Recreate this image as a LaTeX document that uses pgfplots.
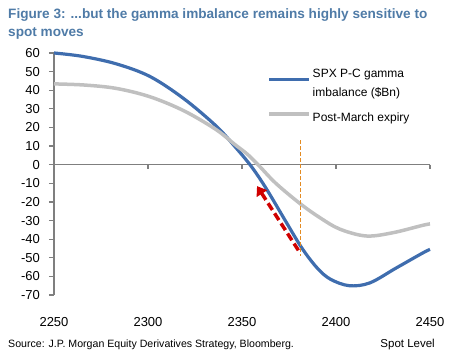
\documentclass[border=0pt]{standalone}
\usepackage{fontspec}
\setmainfont{Liberation Sans}
\usepackage{pgfplots}
\pgfplotsset{compat=1.18}
\usetikzlibrary{arrows.meta}
\definecolor{titleblue}{HTML}{4F7BA7}
\definecolor{seriesblue}{HTML}{3F6DAE}
\definecolor{seriesgrey}{HTML}{C0C0C0}
\definecolor{axisgrey}{HTML}{7F7F7F}
\definecolor{darkorange}{HTML}{E38B22}
\definecolor{arrowred}{HTML}{D00000}
\begin{document}
\begin{tikzpicture}
\path[use as bounding box] (0bp,0bp) rectangle (450bp,358bp);
\node[anchor=base west, inner sep=0pt, text=titleblue, font=\fontsize{13.6bp}{16bp}\selectfont\bfseries] at (8bp,339bp) {Figure 3: ...but the gamma imbalance remains highly sensitive to};
\node[anchor=base west, inner sep=0pt, text=titleblue, font=\fontsize{13.6bp}{16bp}\selectfont\bfseries] at (8bp,321bp) {spot moves};
\begin{axis}[at={(54bp,63bp)}, anchor=south west, width=376bp, height=242bp, scale only axis,
 xmin=2250, xmax=2450, ymin=-70, ymax=60,
 xtick={2250,2300,...,2450}, ytick={-70,-60,...,60},
 axis x line=bottom, axis y line=left,
 x axis line style={draw=none}, y axis line style={-, draw=axisgrey, line width=1.5bp},
 xtick style={draw=none}, ytick style={draw=axisgrey, line width=1.2bp},
 tick align=outside, major tick length=5bp,
 /pgf/number format/assume math mode=true, /pgf/number format/1000 sep={},
 tick label style={font=\fontsize{13bp}{15bp}\selectfont, inner sep=0pt},
 xticklabel style={anchor=base, yshift=-26bp},
 yticklabel style={anchor=east, xshift=-9bp},
 clip=false,
 legend style={draw=none, fill=none, at={(0.56,0.95)}, anchor=north west,
   font=\fontsize{12bp}{19bp}\selectfont, row sep=11bp, nodes={inner xsep=1.5bp},
   cells={anchor=west, align=left}},
 legend cell align=left,
 legend image code/.code={\draw[#1] (0bp,4bp) -- (40bp,4bp);},
]
\draw[axisgrey, line width=1.5bp] (axis cs:2250,0) -- (axis cs:2450,0);
\pgfplotsinvokeforeach{2300,2350,2400,2450}{\draw[axisgrey, line width=1.2bp] (axis cs:#1,0) -- ([yshift=-4bp]axis cs:#1,0);}
\addplot[seriesblue, line width=3.2bp, smooth, tension=0.55] coordinates {
(2250,60) (2265,58.2) (2283,54.2) (2301,47.4) (2319,35.5) (2336,21) (2346,10) (2355,-1)
(2363,-13) (2373,-30) (2382,-45) (2390,-55.5) (2397,-61.5) (2407,-65) (2418,-63.5)
(2432,-55.5) (2446,-47.5) (2450,-45.5)};
\addlegendentry{SPX P-C gamma\\imbalance (\$Bn)}
\addplot[seriesgrey, line width=3.5bp, smooth, tension=0.55] coordinates {
(2250,43.4) (2266,42.8) (2283,41) (2301,36.5) (2319,29) (2336,19) (2346,11) (2353,5.5)
(2359,-0.5) (2368,-10) (2381,-21) (2391.5,-28.5) (2402,-34.6) (2416,-38.3) (2430,-36.6)
(2446,-32.6) (2450,-31.8)};
\addlegendentry{Post-March expiry}
\addplot[forget plot, darkorange, line width=1.5bp, dash pattern=on 4bp off 2bp] coordinates {(2381,13) (2381,-49)};
\addplot[forget plot, arrowred, line width=3.5bp, dash pattern=on 8bp off 4bp, -{Triangle[width=12bp,length=9bp]}] coordinates {(2380,-46) (2358,-11.5)};
\end{axis}
\node[anchor=base west, inner sep=0pt, font=\fontsize{10.6bp}{12bp}\selectfont] at (8bp,11bp) {Source: J.P. Morgan Equity Derivatives Strategy, Bloomberg.};
\node[anchor=base east, inner sep=0pt, font=\fontsize{11.5bp}{13bp}\selectfont] at (435bp,11bp) {Spot Level};
\end{tikzpicture}
\end{document}
